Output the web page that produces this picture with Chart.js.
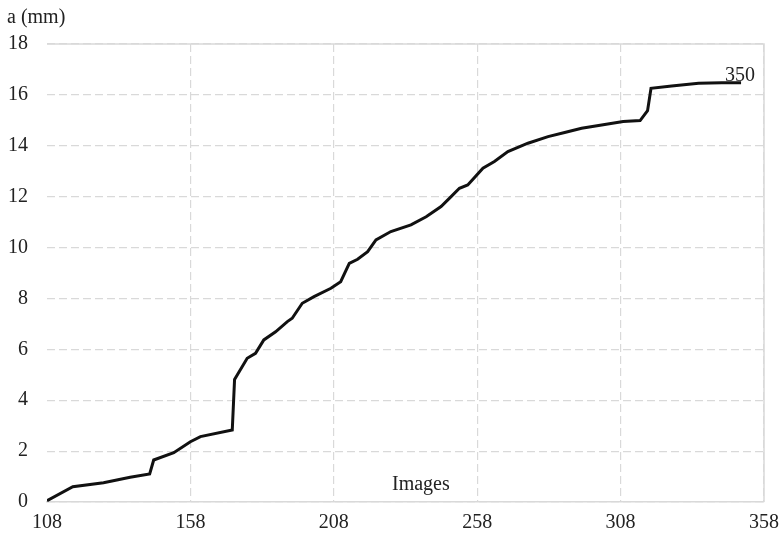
<!DOCTYPE html>
<html lang="en">
<head>
  <meta charset="UTF-8">
  <title>a (mm) vs Images</title>
  <script src="https://cdn.jsdelivr.net/npm/chart.js"></script>
  <style>
    body { margin: 0; background: #fff; }
  </style>
</head>
<body>
  <canvas id="grafico" width="779" height="549"></canvas>

  <script>
    // values
    const imagens = [108, 117, 127.7, 137, 143.8, 145.2, 152.2, 158, 161.5, 172.6, 173.4, 177.8, 180.7, 183.6,
      187.7, 191.8, 193.5, 197, 201.1, 207, 210.4, 213.4, 216.3, 219.8, 222.7, 227.9, 234.9, 240.2, 245.4,
      248.9, 251.8, 254.7, 260, 264, 268.7, 275.7, 282.7, 288.5, 294.4, 301.4, 308.9, 314.8, 317.4, 318.6,
      325.8, 335.2, 343.3, 350];
    const comprimento = [0.05, 0.6, 0.76, 0.97, 1.1, 1.65, 1.94, 2.37, 2.57, 2.83, 4.82, 5.65, 5.84, 6.37,
      6.69, 7.09, 7.22, 7.81, 8.07, 8.4, 8.66, 9.38, 9.54, 9.84, 10.3, 10.63, 10.89, 11.21, 11.61,
      12.0, 12.33, 12.46, 13.12, 13.38, 13.77, 14.1, 14.36, 14.52, 14.69, 14.82, 14.95, 14.99, 15.38, 16.26,
      16.35, 16.46, 16.48, 16.48];
    const xTicks = [108, 158, 208, 258, 308, 358];
    const yTicks = [0, 2, 4, 6, 8, 10, 12, 14, 16, 18];
    const rotuloFinal = '350';

    const fonte = '"Liberation Serif", "Times New Roman", serif';
    const corGrade = '#d9d9d9';

    // top and right frame lines + free text labels
    const moldura = {
      id: 'moldura',
      afterDatasetsDraw(chart) {
        const { ctx, chartArea: a, scales } = chart;
        ctx.save();
        ctx.strokeStyle = corGrade;
        ctx.lineWidth = 1.5;
        ctx.beginPath();
        ctx.moveTo(a.left, a.top);
        ctx.lineTo(a.right, a.top);
        ctx.lineTo(a.right, a.bottom);
        ctx.stroke();

        ctx.fillStyle = '#222';
        ctx.font = '20px ' + fonte;
        ctx.textAlign = 'left';
        ctx.textBaseline = 'alphabetic';
        ctx.fillText('a (mm)', 7, 23);
        ctx.fillText('Images', 392, 490);

        const n = imagens.length - 1;
        const px = scales.x.getPixelForValue(imagens[n]);
        const py = scales.y.getPixelForValue(comprimento[n]);
        ctx.fillText(rotuloFinal, px - 16, py - 2);
        ctx.restore();
      }
    };

    new Chart(document.getElementById('grafico'), {
      type: 'line',
      data: {
        datasets: [{
          data: imagens.map((x, i) => ({ x: x, y: comprimento[i] })),
          borderColor: '#111',
          borderWidth: 3,
          pointRadius: 0,
          tension: 0,
          fill: false
        }]
      },
      options: {
        responsive: false,
        animation: false,
        layout: { padding: { top: 44, right: 15, left: 0, bottom: 0 } },
        plugins: { legend: { display: false }, tooltip: { enabled: false } },
        scales: {
          x: {
            type: 'linear',
            min: 108,
            max: 358,
            afterBuildTicks: s => { s.ticks = xTicks.map(v => ({ value: v })); },
            afterFit: s => { s.height = 47; s.paddingLeft = 0; s.paddingRight = 0; },
            grid: {
              color: c => (c.tick && c.tick.value === 108 ? 'rgba(0,0,0,0)' : corGrade),
              lineWidth: 1.2,
              drawTicks: false
            },
            border: { display: true, color: corGrade, width: 1.5, dash: [8, 4] },
            ticks: { color: '#222', padding: 9, maxRotation: 0, font: { family: fonte, size: 20 } }
          },
          y: {
            min: 0,
            max: 18,
            afterBuildTicks: s => { s.ticks = yTicks.map(v => ({ value: v })); },
            afterFit: s => { s.width = 47; },
            grid: { color: corGrade, lineWidth: 1.2, drawTicks: false },
            border: { display: false, dash: [8, 4] },
            ticks: { color: '#222', padding: 19, font: { family: fonte, size: 20 } }
          }
        }
      },
      plugins: [moldura]
    });
  </script>
</body>
</html>
